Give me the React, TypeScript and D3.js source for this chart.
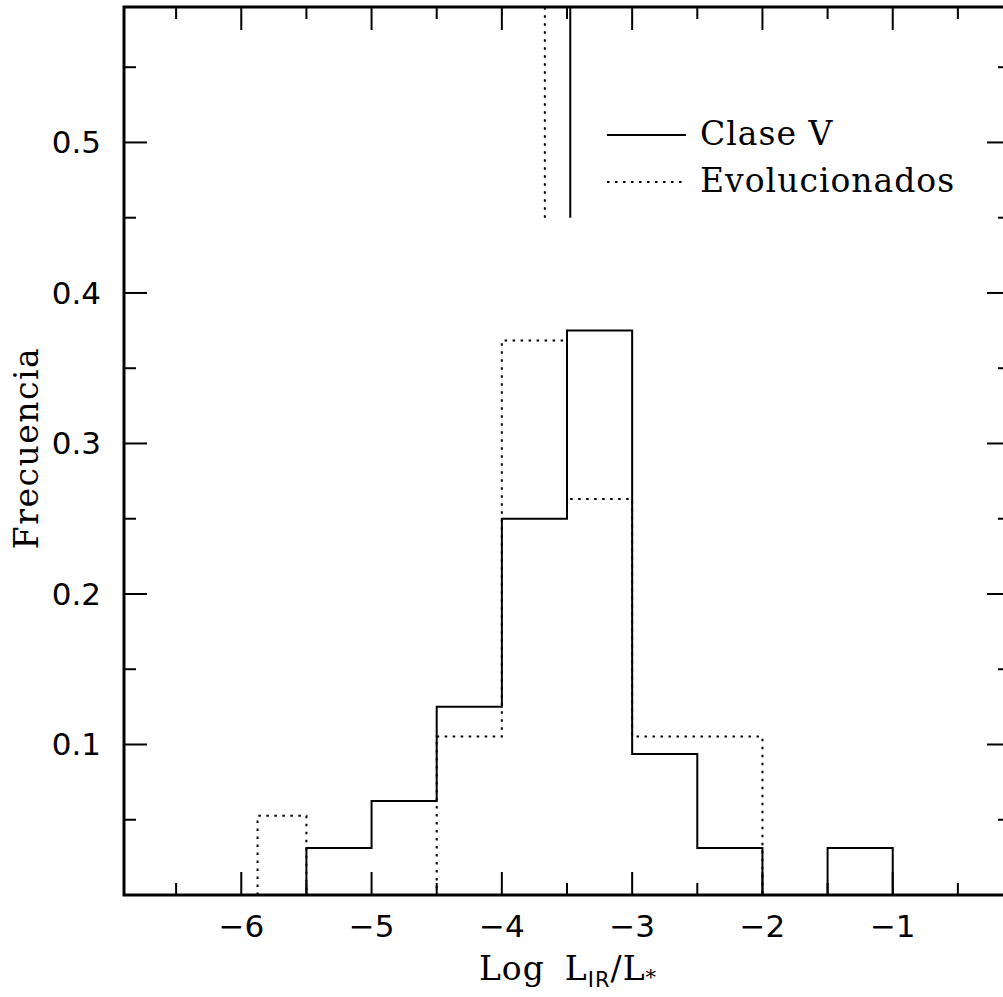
import React from "react";
import * as d3 from "d3";

const claseEdges = [-5.5, -5, -4.5, -4, -3.5, -3, -2.5, -2, -1.5, -1];
const claseValues = [1 / 32, 2 / 32, 4 / 32, 8 / 32, 12 / 32, 3 / 32, 1 / 32, 0, 1 / 32];
const evolEdges = [-5.875, -5.5, -5, -4.5, -4, -3.5, -3, -2.5, -2];
const evolValues = [1 / 19, 0, 0, 2 / 19, 7 / 19, 5 / 19, 2 / 19, 2 / 19];
const meanClase = -3.475;
const meanEvol = -3.67;
const meanLineBottom = 0.45;
const xMajorTicks = [-6, -5, -4, -3, -2, -1];
const xMinorTicks = [-6.5, -5.5, -4.5, -3.5, -2.5, -1.5, -0.5];
const yMajorTicks = [0.1, 0.2, 0.3, 0.4, 0.5];
const yMinorTicks = [0.05, 0.15, 0.25, 0.35, 0.45, 0.55];
const legendLabels = ["Clase V", "Evolucionados"];

const W = 1003;
const H = 997;
const L = 124, R = 1010, T = 7, B = 895;

export default function App() {
  const x = d3.scaleLinear().domain([-6.9, -0.1]).range([L, R]);
  const y = d3.scaleLinear().domain([0, 0.59]).range([B, T]);

  const stepPath = (edges: number[], vals: number[]) => {
    const p = d3.path();
    p.moveTo(x(edges[0]), y(0));
    vals.forEach((v, i) => {
      p.lineTo(x(edges[i]), y(v));
      p.lineTo(x(edges[i + 1]), y(v));
    });
    p.lineTo(x(edges[edges.length - 1]), y(0));
    return p.toString();
  };

  const majorLen = 23;
  const minorLen = 12;
  const sans = "'DejaVu Sans', sans-serif";
  const serif = "'DejaVu Serif', serif";
  const dash = "2.5 5.5";

  return (
    <svg
      width={W}
      height={H}
      style={{ position: "absolute", left: 0, top: 0, background: "#fff" }}
    >
      <rect x={0} y={0} width={W} height={H} fill="#fff" />
      {/* histograms */}
      <path d={stepPath(evolEdges, evolValues)} fill="none" stroke="#000" strokeWidth={2} strokeDasharray={dash} />
      <path d={stepPath(claseEdges, claseValues)} fill="none" stroke="#000" strokeWidth={2} />
      {/* mean lines */}
      <line x1={x(meanClase)} x2={x(meanClase)} y1={y(meanLineBottom)} y2={T} stroke="#000" strokeWidth={2} />
      <line x1={x(meanEvol)} x2={x(meanEvol)} y1={y(meanLineBottom)} y2={T} stroke="#000" strokeWidth={2} strokeDasharray={dash} />
      {/* ticks */}
      {xMajorTicks.map((t) => (
        <g key={"xM" + t}>
          <line x1={x(t)} x2={x(t)} y1={B} y2={B - majorLen} stroke="#000" strokeWidth={2} />
          <line x1={x(t)} x2={x(t)} y1={T} y2={T + majorLen} stroke="#000" strokeWidth={2} />
          <text x={x(t)} y={937} textAnchor="middle" fontFamily={sans} fontSize={31}>
            {"\u2212" + Math.abs(t)}
          </text>
        </g>
      ))}
      {xMinorTicks.map((t) => (
        <g key={"xm" + t}>
          <line x1={x(t)} x2={x(t)} y1={B} y2={B - minorLen} stroke="#000" strokeWidth={2} />
          <line x1={x(t)} x2={x(t)} y1={T} y2={T + minorLen} stroke="#000" strokeWidth={2} />
        </g>
      ))}
      {yMajorTicks.map((t) => (
        <g key={"yM" + t}>
          <line x1={L} x2={L + majorLen} y1={y(t)} y2={y(t)} stroke="#000" strokeWidth={2} />
          <line x1={R} x2={R - majorLen} y1={y(t)} y2={y(t)} stroke="#000" strokeWidth={2} />
          <text x={101} y={y(t) + 11} textAnchor="end" fontFamily={sans} fontSize={31}>
            {t.toFixed(1)}
          </text>
        </g>
      ))}
      {yMinorTicks.map((t) => (
        <g key={"ym" + t}>
          <line x1={L} x2={L + minorLen} y1={y(t)} y2={y(t)} stroke="#000" strokeWidth={2} />
          <line x1={R} x2={R - minorLen} y1={y(t)} y2={y(t)} stroke="#000" strokeWidth={2} />
        </g>
      ))}
      {/* frame */}
      <rect x={L} y={T} width={R - L} height={B - T} fill="none" stroke="#000" strokeWidth={3} />
      {/* legend */}
      <line x1={607} x2={686} y1={135} y2={135} stroke="#000" strokeWidth={2} />
      <text x={700} y={145} fontFamily={serif} fontSize={33} letterSpacing={1}>{legendLabels[0]}</text>
      <line x1={607} x2={686} y1={182} y2={182} stroke="#000" strokeWidth={2} strokeDasharray={dash} />
      <text x={700} y={192} fontFamily={serif} fontSize={33} letterSpacing={1}>{legendLabels[1]}</text>
      {/* axis titles */}
      <text x={568} y={980} textAnchor="middle" fontFamily={serif} fontSize={33} letterSpacing={1}>
        <tspan>Log</tspan>
        <tspan dx={20}>L</tspan>
        <tspan fontFamily={sans} fontSize={21} dy={7}>IR</tspan>
        <tspan dy={-7}>/L</tspan>
        <tspan fontSize={21} dy={4}>*</tspan>
      </text>
      <text
        transform={`translate(38, 448) rotate(-90)`}
        textAnchor="middle"
        fontFamily={serif}
        fontSize={33}
        letterSpacing={1.5}
      >
        Frecuencia
      </text>
    </svg>
  );
}
